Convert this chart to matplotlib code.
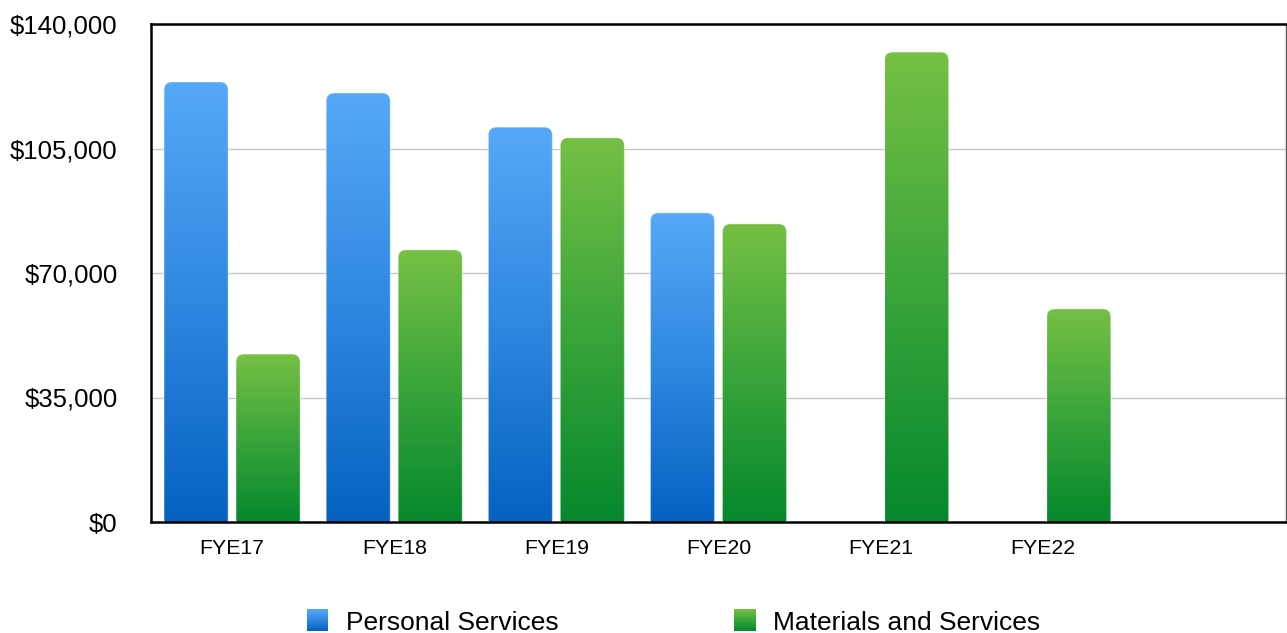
import numpy as np
import matplotlib
matplotlib.use("Agg")
import matplotlib.pyplot as plt
from matplotlib.patches import FancyBboxPatch
from matplotlib.colors import LinearSegmentedColormap

plt.rcParams['font.family'] = ['Liberation Sans', 'DejaVu Sans']

categories = ["FYE17", "FYE18", "FYE19", "FYE20", "FYE21", "FYE22", ""]
personal_services = [123700, 120600, 111000, 86900, None, None, None]
materials_services = [47200, 76500, 108000, 83800, 132100, 59900, None]
series_names = ["Personal Services", "Materials and Services"]
yticks = [0, 35000, 70000, 105000, 140000]
ytick_labels = ["$0", "$35,000", "$70,000", "$105,000", "$140,000"]

W, H = 1287, 633
fig = plt.figure(figsize=(W / 100, H / 100), dpi=100)
ax_l, ax_r, ax_t, ax_b = 151, 1286, 24, 522
ax = fig.add_axes([ax_l / W, 1 - ax_b / H, (ax_r - ax_l) / W, (ax_b - ax_t) / H])

blue_cmap = LinearSegmentedColormap.from_list("b", ["#0562c0", "#2f87e0", "#56a9f8"])
green_cmap = LinearSegmentedColormap.from_list("g", ["#05882d", "#3aa53a", "#76c044"])
grad = np.linspace(0, 1, 256).reshape(-1, 1)

n = len(categories)
xmin, xmax = -0.5, n - 0.5
ymin, ymax = 0, 140000
width = 0.395
offset = 0.222

x_per_px = (xmax - xmin) / (ax_r - ax_l)
y_per_px = (ymax - ymin) / (ax_b - ax_t)
aspect = y_per_px / x_per_px
r = 8 * x_per_px


def draw_bar(xc, h, cmap):
    x0 = xc - width / 2
    im = ax.imshow(grad, extent=[x0, x0 + width, 0, h], origin="lower",
                   aspect="auto", cmap=cmap, zorder=2, interpolation="bilinear")
    bottom = -20 * y_per_px
    patch = FancyBboxPatch((x0, bottom), width, h - bottom,
                           boxstyle=f"round,pad=0,rounding_size={r}",
                           mutation_aspect=aspect, transform=ax.transData,
                           facecolor="none", edgecolor=(1, 1, 1, 0.35),
                           linewidth=0.8, zorder=3)
    ax.add_patch(patch)
    im.set_clip_path(patch)


for i in range(n):
    if personal_services[i] is not None:
        draw_bar(i - offset, personal_services[i], blue_cmap)
    if materials_services[i] is not None:
        draw_bar(i + offset, materials_services[i], green_cmap)

ax.set_xlim(xmin, xmax)
ax.set_ylim(ymin, ymax)
ax.set_yticks(yticks)
ax.set_yticklabels(ytick_labels, fontsize=18.5)
ax.set_xticks(range(n))
ax.set_xticklabels(categories, fontsize=15.3)
ax.tick_params(axis="y", length=0, pad=24)
ax.tick_params(axis="x", length=0, pad=12)
ax.yaxis.grid(True, color="#c8c8c8", linewidth=1)
ax.set_axisbelow(True)
for s in ["left", "top", "bottom"]:
    ax.spines[s].set_linewidth(1.8)
    ax.spines[s].set_color("black")
ax.spines["right"].set_linewidth(1)
ax.spines["right"].set_color("#555555")

# Legend
legend_items = [(307, series_names[0], blue_cmap), (734, series_names[1], green_cmap)]
for lx, label, cmap in legend_items:
    sq = fig.add_axes([lx / W, 1 - 631 / H, 21 / W, 22 / H])
    sq.imshow(grad, origin="lower", aspect="auto", cmap=cmap, extent=[0, 1, 0, 1])
    sq.set_axis_off()
    fig.text((lx + 39) / W, 1 - 623 / H, label, fontsize=19, va="center", ha="left")

fig.savefig("out.png", dpi=100)
